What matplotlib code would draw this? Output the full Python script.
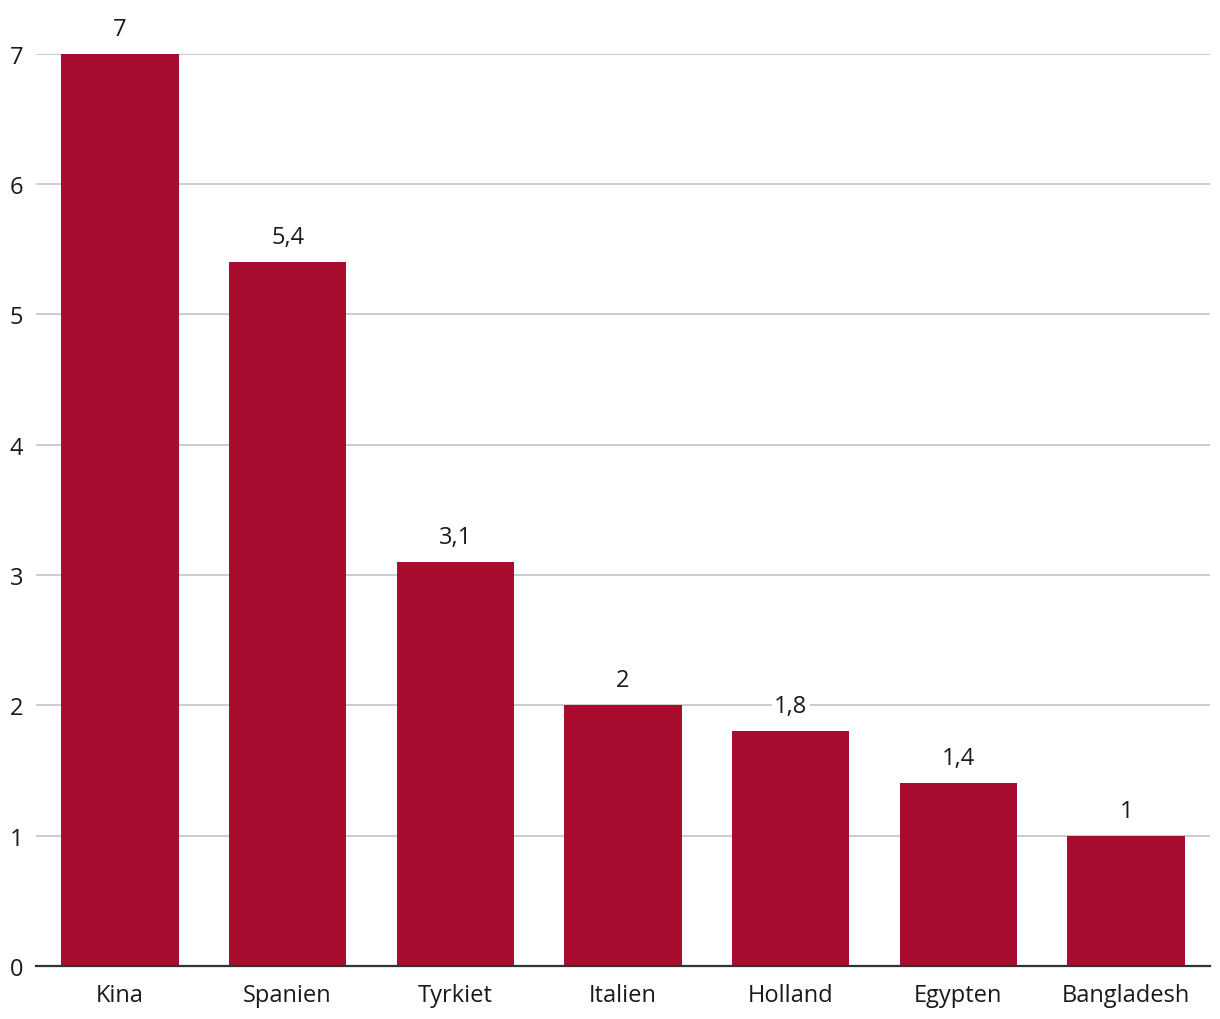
import matplotlib.pyplot as plt

plt.rcParams['font.family'] = ['Open Sans', 'DejaVu Sans']

countries = ['Kina', 'Spanien', 'Tyrkiet', 'Italien', 'Holland', 'Egypten', 'Bangladesh']
values = [7, 5.4, 3.1, 2, 1.8, 1.4, 1]
yticks = [0, 1, 2, 3, 4, 5, 6, 7]

bar_color = '#a80c2e'

fig = plt.figure(figsize=(12.2, 10.2), dpi=100)
ax = fig.add_axes([0.0295, 0.0521, 0.9623, 0.8941])

x = range(len(countries))
ax.bar(x, values, width=0.70, color=bar_color, zorder=3)

ax.set_xlim(-0.5, len(countries) - 0.5)
ax.set_ylim(0, 7)
ax.set_yticks(yticks)
ax.set_yticklabels([str(t) for t in yticks])
ax.set_xticks(list(x))
ax.set_xticklabels(countries)

ax.yaxis.grid(True, color='#c8c8c8', linewidth=1.3, zorder=0)
ax.set_axisbelow(True)
ax.tick_params(axis='both', length=0, labelsize=17, colors='#1a1a1a')
ax.tick_params(axis='y', pad=9)
ax.tick_params(axis='x', pad=12)

for s in ['top', 'right', 'left']:
    ax.spines[s].set_visible(False)
ax.spines['bottom'].set_color('#333333')
ax.spines['bottom'].set_linewidth(1.6)
ax.spines['bottom'].set_zorder(4)

for xi, v in zip(x, values):
    label = f'{v:g}'.replace('.', ',')
    ax.annotate(label, (xi, v), xytext=(0, 18), textcoords='offset points',
                ha='center', va='center', fontsize=17, color='#1a1a1a',
                annotation_clip=False, zorder=5,
                bbox=dict(boxstyle='square,pad=0.1', fc='white', ec='none'))

fig.savefig('out.png', dpi=100)
